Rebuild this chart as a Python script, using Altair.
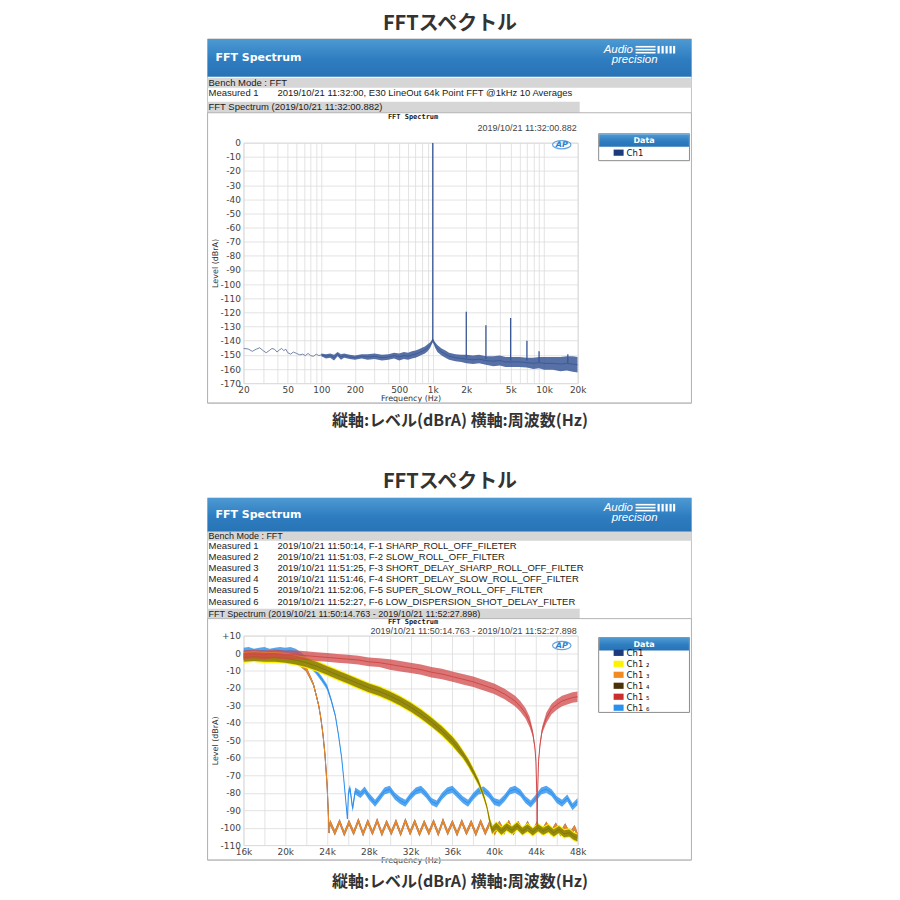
import altair as alt
import pandas as pd

# ---------------- Chart 1 (FFT @1kHz) data ----------------
low_hz = [20, 22, 24, 26, 28, 30, 32, 34, 36, 38, 40, 42, 44, 46, 48, 50, 53, 56, 60, 64, 68, 72, 76, 80, 85, 90, 95, 100]
low_db = [-145.5, -145.8, -147.5, -146.0, -145.0, -147.0, -148.5, -147.0, -145.5, -146.0, -148.0, -146.5, -145.5,
          -147.0, -146.0, -148.5, -149.5, -148.0, -149.0, -150.0, -149.5, -150.5, -149.0, -150.5, -151.0, -149.5,
          -150.5, -150.0]
band_hz = [100, 110, 120, 130, 140, 150, 160, 180, 200, 230, 260, 300, 350, 400, 450, 500, 550, 600, 650, 700,
           750, 800, 850, 900, 950, 980, 1000, 1020, 1050, 1100, 1200, 1300, 1400, 1600, 1800, 2000, 2300, 2600,
           3000, 3500, 4000, 4500, 5000, 6000, 7000, 8000, 9000, 10000, 12000, 14000, 16000, 18000, 20000]
band_db = [-150.0, -151.0, -150.5, -152.0, -149.5, -151.5, -150.5, -151.5, -152.0, -151.0, -151.5, -151.0, -152.0,
           -151.5, -150.5, -151.5, -150.5, -151.0, -150.0, -149.5, -148.5, -147.5, -146.5, -145.0, -143.0, -141.0,
           -139.5, -141.0, -143.0, -145.5, -148.0, -149.5, -151.0, -152.0, -152.5, -153.0, -153.5, -153.0, -154.0,
           -154.5, -154.0, -155.0, -155.0, -155.0, -155.5, -156.0, -155.5, -156.0, -156.0, -156.5, -156.0, -156.5,
           -157.0]
band_w = [1.0, 1.5, 1.5, 2.0, 1.5, 2.0, 1.5, 1.5, 1.5, 1.5, 2.0, 2.0, 2.0, 2.0, 2.0, 2.5, 2.5, 2.5, 2.5, 2.5,
          2.5, 2.5, 2.5, 2.5, 2.0, 1.5, 1.5, 1.5, 2.0, 2.5, 2.5, 2.5, 2.5, 2.5, 2.5, 3.0, 3.0, 3.0, 3.0, 3.5,
          3.5, 3.5, 3.5, 3.5, 3.5, 4.0, 4.0, 4.5, 4.5, 5.0, 5.0, 5.5, 5.5]
harm_hz = [1000, 2000, 3000, 5000, 7000, 9000, 16300]
harm_top = [0, -119.5, -129, -124, -140, -147.5, -149.5]
harm_base = [-140, -152, -153, -154, -154, -155, -156]

grid1_x = [20, 30, 40, 50, 60, 70, 80, 90, 100, 200, 300, 400, 500, 600, 700, 800, 900, 1000, 2000, 3000, 4000,
           5000, 6000, 7000, 8000, 9000, 10000, 20000]
label1_x = [20, 50, 100, 200, 500, 1000, 2000, 5000, 10000, 20000]
ticks1_y = [-170, -160, -150, -140, -130, -120, -110, -100, -90, -80, -70, -60, -50, -40, -30, -20, -10, 0]
series1 = ["Ch1"]
colors1 = ["#1c3a7e"]

# ---------------- Chart 2 (filters) data, kHz ----------------
sharp_khz = [16.0, 16.5, 17.0, 17.5, 18.0, 18.5, 19.0, 19.5, 20.0, 20.5, 21.0, 21.5, 22.0, 22.4, 22.7, 23.0, 23.2,
             23.4, 23.6, 23.8, 24.0, 24.1, 24.2,
             24.30, 24.75, 25.20, 25.65, 26.10, 26.55, 27.00, 27.45, 27.90, 28.35, 28.80, 29.25, 29.70, 30.15,
             30.60, 31.05, 31.50, 31.95, 32.40, 32.85, 33.30, 33.75, 34.20, 34.65, 35.10, 35.55, 36.00, 36.45,
             36.90, 37.35, 37.80, 38.25, 38.70, 39.15, 39.60, 40.05, 40.50, 40.95, 41.40, 41.85, 42.30, 42.75,
             43.20, 43.65, 44.10, 44.55, 45.00, 45.45, 45.90, 46.35, 46.80, 47.25, 47.70, 48.00]
sharp_db = [-2.0, -1.0, -2.5, -1.5, -2.0, -1.0, -2.0, -2.5, -2.0, -3.0, -4.0, -6.0, -9.0, -14.0, -18.0, -25.0,
            -30.0, -37.0, -46.0, -58.0, -75.0, -88.0, -103.0,
            -97.0, -103.0, -96.5, -103.5, -97.0, -103.0, -96.0, -103.5, -96.5, -103.0,
            -96.0, -103.5, -97.0, -103.0, -96.5, -103.5, -96.0, -103.0, -96.5, -103.5,
            -97.0, -103.0, -96.5, -103.5, -96.0, -103.0, -97.0, -103.5, -96.5, -103.0,
            -97.0, -103.5, -96.5, -103.0, -97.0, -103.0, -97.5, -102.5, -97.0, -103.0,
            -97.5, -102.5, -97.5, -103.0, -98.0, -102.5, -98.0, -103.0, -98.5, -103.5,
            -99.0, -104.0, -100.0, -104.5]
sharp_w = [2.0] * 12 + [1.5, 1.2, 1.0, 1.0, 0.8, 0.8, 0.8, 0.8, 0.8, 0.8, 0.8] + [1.5] * 54

slow_khz = [16, 17, 18, 19, 20, 21, 22, 23, 24, 25, 26, 27, 28, 29, 30, 31, 32, 33, 34, 35, 36, 36.5, 37, 37.5,
            38, 38.5, 39, 39.3, 39.6, 39.8, 40.2, 40.7, 41.2, 41.7, 42.2, 42.7, 43.2, 43.7, 44.2, 44.7, 45.2,
            45.7, 46.2, 46.7, 47.2, 47.6, 48.0]
slow_db = [-2.5, -2.0, -2.5, -2.5, -3.0, -4.0, -5.5, -7.5, -10.0, -12.5, -15.0, -17.5, -20.0, -22.0, -24.5,
           -27.5, -31.0, -35.0, -39.5, -44.5, -50.5, -54.0, -58.0, -62.5, -68.0, -74.0, -82.0, -88.0, -97.0,
           -101.5, -99.0, -102.0, -99.5, -101.5, -99.0, -102.0, -100.0, -102.5, -100.0, -102.0, -100.5, -103.0,
           -101.0, -103.5, -103.0, -105.0, -106.0]
slow_w = [2.5] * 22 + [2.0, 2.0, 1.8, 1.5, 1.2, 1.0] + [2.0] * 19

red_khz = [16, 17, 18, 19, 20, 21, 22, 23, 24, 25, 26, 27, 28, 29, 30, 31, 32, 33, 34, 35, 36, 37, 38, 39, 40,
           41, 42, 42.5, 43.0, 43.4, 43.7, 43.9, 44.0, 44.08, 44.12, 44.16, 44.25, 44.4, 44.6, 45.0, 45.5, 46.0,
           46.5, 47.0, 47.5, 48.0]
red_db = [-1.0, -0.5, -1.0, -0.5, -1.0, -1.0, -1.5, -2.0, -2.5, -3.0, -3.5, -4.0, -5.0, -5.5, -6.5, -7.5, -8.5,
          -9.5, -11.0, -12.0, -13.5, -15.0, -16.5, -18.5, -20.5, -23.5, -27.5, -30.5, -34.5, -39.5, -46.0, -54.0,
          -62.0, -80.0, -99.0, -80.0, -62.0, -52.0, -44.0, -37.0, -32.0, -29.5, -27.5, -26.5, -25.5, -25.0]
red_w = [2.5] * 14 + [3.0] * 16 + [2.0, 1.5, 1.0, 0.5, 0.3, 0.5, 1.0, 1.5, 2.0] + [3.0] * 7

blue_khz = [16.0, 16.5, 17.0, 17.5, 18.0, 18.5, 19.0, 19.5, 20.0, 20.5, 21.0, 21.5, 22.0, 22.5, 23.0, 23.5, 24.0,
            24.4, 24.8, 25.1, 25.4, 25.6, 25.8, 25.95, 26.05, 26.2, 26.45, 26.7, 27.2, 27.6, 28.0, 28.6, 29.0,
            29.5, 30.0, 30.5, 31.0, 31.5, 32.0, 32.5, 33.0, 33.5, 34.0, 34.5, 35.0, 35.5, 36.0, 36.5, 37.0,
            37.5, 38.0, 38.5, 39.0, 39.5, 40.0, 40.5, 41.0, 41.5, 42.0, 42.5, 43.0, 43.5, 44.0, 44.5, 45.0,
            45.5, 46.0, 46.5, 47.0, 47.5, 48.0]
blue_db = [1.0, 1.5, 0.5, 1.0, 1.5, 0.5, 1.0, 1.5, 1.0, 1.5, 0.5, -1.5, -4.0, -7.5, -11.0, -15.0, -19.5,
           -27.0, -36.0, -47.0, -60.0, -72.0, -85.0, -95.0, -80.0, -77.5, -89.0, -79.0, -81.0, -78.5, -82.0,
           -86.0, -83.0,
           -79.0, -78.0, -82.0, -84.5, -86.0, -82.0, -79.0, -78.0, -81.0, -85.0, -86.5, -82.0, -79.0, -78.0,
           -81.0, -84.0, -86.0, -82.0, -79.0, -78.5, -81.0, -85.0, -86.0, -83.0, -79.0, -78.0, -80.0, -84.0,
           -86.5, -83.0, -79.0, -78.0, -80.0, -84.0, -86.0, -83.0, -88.0, -85.0]
blue_w = [2.0] * 12 + [1.8, 1.5, 1.5, 1.5, 1.5, 1.2, 1.0, 0.8, 0.8, 0.6, 0.6, 0.5] + [2.0] * 47

grid2_x = [16, 18, 20, 22, 24, 26, 28, 30, 32, 34, 36, 38, 40, 42, 44, 46, 48]
label2_x = [16, 20, 24, 28, 32, 36, 40, 44, 48]
ticks2_y = [-110, -100, -90, -80, -70, -60, -50, -40, -30, -20, -10, 0, 10]
series2 = ["Ch1", "Ch1 \u2082", "Ch1 \u2083", "Ch1 \u2084", "Ch1 \u2085", "Ch1 \u2086"]
colors2 = ["#1c3a7e", "#fff200", "#f28a24", "#4a3208", "#cc2e2e", "#2a90ee"]

# ---------------- layout (page pixels) ----------------
O1 = (243, 141)
O2 = (243, 635)
W, H1, H2 = 335, 241, 210
ONE = pd.DataFrame({"k": [0]})
SANS = "Liberation Sans"
VER = "DejaVu Sans"
CJK = "Noto Sans CJK JP"

grad = alt.LinearGradient(gradient="linear", x1=0, x2=0, y1=0, y2=1,
                          stops=[alt.GradientStop(color="#4d99d3", offset=0),
                                 alt.GradientStop(color="#2e7dc0", offset=0.55),
                                 alt.GradientStop(color="#2773b5", offset=1)])


def T(text, x, y, o, size=9.5, color="#1a1a1a", font=SANS, weight="normal", align="left",
      style="normal", baseline="middle"):
    return alt.Chart(ONE).mark_text(text=text, fontSize=size, color=color, font=font, fontWeight=weight,
                                    align=align, baseline=baseline, fontStyle=style).encode(
        x=alt.value(x - o[0]), y=alt.value(y - o[1]))


def R(x1, y1, x2, y2, o, fill=None, stroke=None, sw=1.0):
    props = {}
    if fill is not None:
        props["fill"] = fill
    else:
        props["fillOpacity"] = 0
    if stroke is not None:
        props["stroke"] = stroke
        props["strokeWidth"] = sw
    return alt.Chart(ONE).mark_rect(**props).encode(
        x=alt.value(x1 - o[0]), x2=alt.value(x2 - o[0]), y=alt.value(y1 - o[1]), y2=alt.value(y2 - o[1]))


def ap_logo(x, y, o):
    ell = alt.Chart(ONE).mark_point(shape="M-1,0A1,0.45 0 1,1 1,0A1,0.45 0 1,1 -1,0Z", filled=False,
                                    size=340, stroke="#2a7fd0", strokeWidth=1.2).encode(
        x=alt.value(x - o[0]), y=alt.value(y - o[1]))
    return [ell, T("AP", x, y + 0.5, o, size=8, color="#2a7fd0", font=VER, weight="bold", align="center",
                   style="italic")]


def header(top, bottom, o, logo_y):
    L = [R(207, top, 692, bottom, o, fill=grad),
         T("FFT Spectrum", 215, (top + bottom) / 2, o, size=11, color="white", font=VER, weight="bold"),
         T("Audio", 604, logo_y - 5, o, size=11.5, color="white", style="italic"),
         T("precision", 612, logo_y + 5.5, o, size=11.5, color="white", style="italic")]
    for yy in (logo_y - 9, logo_y - 6, logo_y - 3):
        L.append(R(636, yy, 656, yy + 1.6, o, fill="white"))
    for xx in (658, 662, 666, 670, 673.5):
        L.append(R(xx, logo_y - 9, xx + 2.2, logo_y - 1.4, o, fill="white"))
    return L


def data_legend(x1, y1, x2, y2, o):
    return [R(x1, y1, x2, y2, o, fill="white", stroke="#8c8c8c"),
            R(x1 + 0.5, y1 + 0.5, x2 - 0.5, y1 + 13, o, fill=grad),
            T("Data", (x1 + x2) / 2, y1 + 7, o, size=8, color="white", font=VER, weight="bold", align="center")]


SW = "M-1,-0.62L1,-0.62L1,0.62L-1,0.62Z"


def legend_layer(names, colors, ly):
    return alt.Chart(pd.DataFrame({"s": names})).mark_point(shape=SW, filled=True, opacity=0, size=100).encode(
        x=alt.value(0), y=alt.value(0),
        color=alt.Color("s:N", scale=alt.Scale(domain=names, range=colors),
                        legend=alt.Legend(orient="none", legendX=614 - O1[0], legendY=ly, title=None,
                                          symbolType=SW, symbolSize=100, symbolStrokeWidth=0,
                                          labelFont=VER, labelFontSize=8.5, labelColor="#111",
                                          labelOffset=3, rowPadding=1, padding=0)))


def x_axis(values, expr):
    return alt.Axis(values=values, labelExpr=expr, title="Frequency (Hz)", grid=True, gridColor="#dcdcdc",
                    gridWidth=0.8, ticks=False, domain=False, labelFont=VER, labelFontSize=9, labelColor="#444",
                    labelPadding=2, labelOverlap=False, labelFlush=False, titleFont=VER, titleFontSize=8,
                    titleFontWeight="normal", titleColor="#333", titlePadding=0)


def y_axis(values, expr):
    return alt.Axis(values=values, labelExpr=expr, title="Level (dBrA)", grid=True, gridColor="#dcdcdc",
                    gridWidth=0.8, ticks=False, domain=False, labelFont=VER, labelFontSize=9, labelColor="#444",
                    labelPadding=3, labelOverlap=False, titleFont=VER, titleFontSize=8,
                    titleFontWeight="normal", titleColor="#333", titlePadding=1)


# ---------------- panel 1 ----------------
xs1 = alt.Scale(type="log", domain=[20, 20000], nice=False)
ys1 = alt.Scale(domain=[-170, 0], nice=False, zero=False)
ax1 = x_axis(grid1_x, f"indexof({label1_x}, datum.value) >= 0 ? (datum.value >= 1000 ? (datum.value / 1000) + 'k' : datum.value + '') : ''")
ay1 = y_axis(ticks1_y, "datum.value + ''")

band1 = pd.DataFrame({"f": band_hz, "db": band_db, "w": band_w})
band1["lo"] = band1.db - band1.w
band1["hi"] = band1.db + band1.w
low1 = pd.DataFrame({"f": low_hz, "db": low_db})
harm1 = pd.DataFrame({"f": harm_hz, "top": harm_top, "base": harm_base})
c1 = "#3a5795"

# transparent page-sized frame: fixes the page origin (8px margin) for the whole figure
p1_layers = [R(8, 8, 892, 892, O1)]
p1_layers += [R(207, 37, 692, 402, O1, stroke="#c4c4c4")]
p1_layers += header(37, 75, O1, 53)
p1_layers += [R(207, 76, 692, 86, O1, fill="#d6d6d6"),
              T("Bench Mode : FFT", 208, 81, O1),
              T("Measured 1", 208, 91.5, O1),
              T("2019/10/21 11:32:00, E30 LineOut 64k Point FFT @1kHz 10 Averages", 277, 91.5, O1),
              R(207, 100, 580, 111, O1, fill="#d6d6d6"),
              T("FFT Spectrum (2019/10/21 11:32:00.882)", 208, 105.5, O1),
              R(207, 111, 692, 402, O1, stroke="#b4b4b4"),
              T("FFT Spectrum", 413, 115.5, O1, size=7, font="DejaVu Sans Mono", weight="bold", align="center"),
              T("2019/10/21 11:32:00.882", 577, 126, O1, size=9, color="#444", align="right")]
p1_layers += [
    alt.Chart(low1).mark_line(color="#66789f", strokeWidth=0.9, clip=True).encode(
        x=alt.X("f:Q", scale=xs1, axis=ax1), y=alt.Y("db:Q", scale=ys1, axis=ay1)),
    alt.Chart(band1).mark_area(color=c1, opacity=0.85, clip=True).encode(
        x=alt.X("f:Q", scale=xs1, axis=ax1), y=alt.Y("lo:Q", scale=ys1, axis=ay1), y2="hi:Q"),
    alt.Chart(band1).mark_line(color=c1, strokeWidth=0.8, clip=True).encode(
        x=alt.X("f:Q", scale=xs1, axis=ax1), y=alt.Y("db:Q", scale=ys1, axis=ay1)),
    alt.Chart(harm1).mark_rule(color=c1, strokeWidth=1.3, clip=True).encode(
        x=alt.X("f:Q", scale=xs1, axis=ax1), y=alt.Y("top:Q", scale=ys1, axis=ay1), y2="base:Q"),
]
p1_layers += ap_logo(562, 143, O1)
p1_layers += data_legend(599, 132, 690, 159, O1)
p1_layers += [legend_layer(series1, colors1, 146 - O1[1])]
p1_layers += [T("FFTスペクトル", 450, 22, O1, size=20, color="#333", font=CJK, weight="bold", align="center"),
              T("縦軸:レベル(dBrA) 横軸:周波数(Hz)", 460, 420, O1, size=16, color="#333", font=CJK,
                weight="bold", align="center")]
panel1 = alt.layer(*p1_layers).properties(width=W, height=H1)

# ---------------- panel 2 ----------------
xs2 = alt.Scale(domain=[16, 48], nice=False, zero=False)
ys2 = alt.Scale(domain=[-110, 10], nice=False, zero=False)
ax2 = x_axis(grid2_x, f"indexof({label2_x}, datum.value) >= 0 ? datum.value + 'k' : ''")
ay2 = y_axis(ticks2_y, "datum.value > 0 ? '+' + datum.value : datum.value + ''")


def trace(khz, db, w, color, op=0.8, lw=1.0, lop=1.0):
    df = pd.DataFrame({"f": khz, "db": db, "w": w})
    df["lo"] = df.db - df.w
    df["hi"] = df.db + df.w
    base = alt.Chart(df)
    return [base.mark_area(color=color, opacity=op, clip=True).encode(
                x=alt.X("f:Q", scale=xs2, axis=ax2), y=alt.Y("lo:Q", scale=ys2, axis=ay2), y2="hi:Q"),
            base.mark_line(color=color, strokeWidth=lw, opacity=lop, clip=True).encode(
                x=alt.X("f:Q", scale=xs2, axis=ax2), y=alt.Y("db:Q", scale=ys2, axis=ay2))]


measured = ["2019/10/21 11:50:14, F-1 SHARP_ROLL_OFF_FILETER",
            "2019/10/21 11:51:03, F-2 SLOW_ROLL_OFF_FILTER",
            "2019/10/21 11:51:25, F-3 SHORT_DELAY_SHARP_ROLL_OFF_FILTER",
            "2019/10/21 11:51:46, F-4 SHORT_DELAY_SLOW_ROLL_OFF_FILTER",
            "2019/10/21 11:52:06, F-5 SUPER_SLOW_ROLL_OFF_FILTER",
            "2019/10/21 11:52:27, F-6 LOW_DISPERSION_SHOT_DELAY_FILTER"]
meas_y = [545, 556.3, 567.5, 578.5, 589.8, 601]

p2_layers = [R(207, 497, 692, 860, O2, stroke="#c4c4c4")]
p2_layers += header(497, 531, O2, 512)
p2_layers += [R(207, 531, 692, 540, O2, fill="#d6d6d6"), T("Bench Mode : FFT", 208, 535.3, O2, size=9)]
for i, (m, yy) in enumerate(zip(measured, meas_y)):
    p2_layers += [T(f"Measured {i + 1}", 208, yy, O2), T(m, 277, yy, O2)]
p2_layers += [R(207, 608, 580, 618, O2, fill="#d6d6d6"),
              T("FFT Spectrum (2019/10/21 11:50:14.763 - 2019/10/21 11:52:27.898)", 208, 613, O2, size=9),
              R(207, 618, 692, 860, O2, stroke="#b4b4b4"),
              T("FFT Spectrum", 413, 621.5, O2, size=7, font="DejaVu Sans Mono", weight="bold", align="center"),
              T("2019/10/21 11:50:14.763 - 2019/10/21 11:52:27.898", 577, 630.5, O2, size=9, color="#444",
                align="right")]
p2_layers += trace(blue_khz, blue_db, blue_w, colors2[5])
p2_layers += trace(sharp_khz, sharp_db, sharp_w, colors2[0])
p2_layers += trace(sharp_khz, sharp_db, sharp_w, colors2[2], op=0.85)
p2_layers += trace(slow_khz, slow_db, [v + 0.7 for v in slow_w], colors2[1], op=0.95, lw=0.5, lop=0.3)
p2_layers += trace(slow_khz, slow_db, slow_w, "#5f5410", op=0.65, lw=0.8, lop=0.45)
p2_layers += trace(red_khz, red_db, red_w, "#d04848", op=0.75)
p2_layers += ap_logo(562, 645, O2)
p2_layers += data_legend(599, 637, 690, 712, O2)
p2_layers += [legend_layer(series2, colors2, 647.3 - O2[1])]
p2_layers += [T("FFTスペクトル", 450, 481.5, O2, size=20, color="#333", font=CJK, weight="bold", align="center"),
              T("縦軸:レベル(dBrA) 横軸:周波数(Hz)", 460, 881.5, O2, size=16, color="#333", font=CJK,
                weight="bold", align="center")]
panel2 = alt.layer(*p2_layers).properties(width=W, height=H2)

chart = alt.vconcat(panel1, panel2, spacing=O2[1] - (O1[1] + H1), bounds="flush").resolve_scale(
    color="independent").properties(padding=0).configure_view(stroke="#8a8a8a", strokeWidth=1).configure(
    background="white")

chart.save("out.html", embed_options={"renderer": "svg", "actions": False})
